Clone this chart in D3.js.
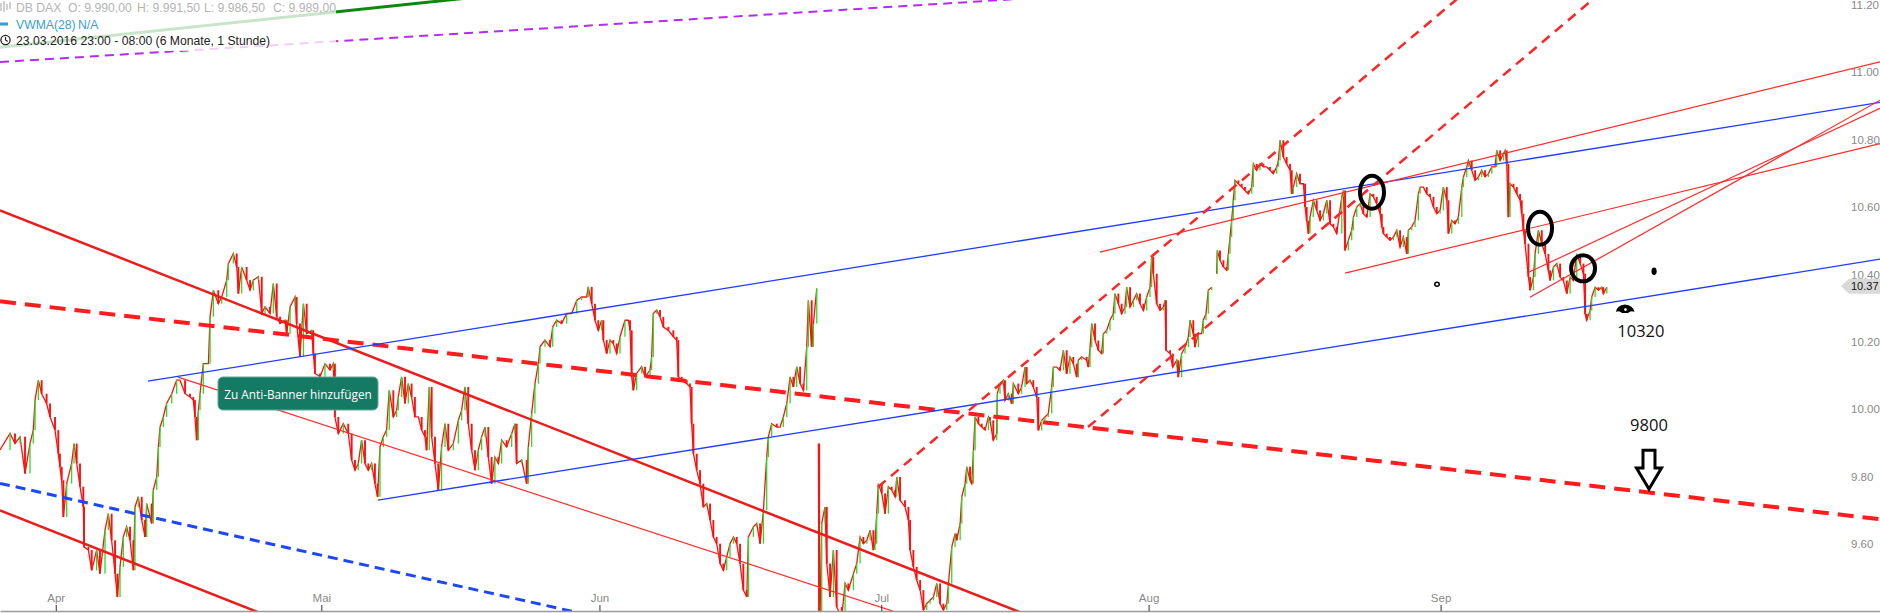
<!DOCTYPE html>
<html><head><meta charset="utf-8">
<script src="https://cdn.jsdelivr.net/npm/d3@7"></script>
<style>
html,body{margin:0;padding:0;background:#fff;overflow:hidden}
svg{display:block}
</style></head><body>
<svg id="chart" width="1880" height="613"></svg>
<script>
// ---------- DATA ----------
const monthLabels = ["Apr","Mai","Jun","Jul","Aug","Sep"];
const monthTicks = [4.39, 25.3, 47.2, 69.39, 90.44, 113.43]; // trading-day index
const priceTickValues = [9600,9800,10000,10200,10400,10600,10800,11000,11200];
const priceTickLabels = ["9.60","9.80","10.00","10.20","10.40","10.60","10.80","11.00","11.20"];
const lastPrice = 10365;
const lastPriceLabel = "10.37";
const legendTitle = ["DB DAX","O: 9.990,00","H: 9.991,50","L: 9.986,50","C: 9.989,00"];
const legendIndicator = ["VWMA(28)","N/A"];
const legendPeriod = "23.03.2016 23:00 - 08:00 (6 Monate, 1 Stunde)";
const bannerText = "Zu Anti-Banner hinzufügen";

// [trading-day index, price]; null = session gap
const prices = [
[0,9879],[0.79,9928],[1.18,9898],[1.58,9918],[1.97,9809],[2.36,9898],[2.62,9938],[2.76,10027],[3.02,10086],[3.28,10046],[3.67,10017],[3.94,9977],[4.33,9938],[4.59,9868],[4.72,9829],[4.86,9789],[4.99,9680],[5.25,9779],[5.64,9839],[5.83,9898],[6.04,9839],[6.30,9770],[6.56,9710],[6.62,9591],[6.96,9582],[7.22,9522],[7.61,9582],[7.87,9512],[8.27,9641],[8.53,9690],[8.79,9611],[9.06,9512],[9.24,9443],[9.45,9532],[9.71,9621],[9.97,9651],[10.24,9611],[10.5,9522],[10.63,9710],[10.89,9740],[11.16,9671],[11.42,9621],[11.55,9720],[11.94,9661],[12.07,9760],[12.34,9799],[12.47,9888],[12.6,9947],[12.86,9977],[13.12,10017],[13.52,10046],[13.91,10086],[14.17,10086],[14.57,10046],[14.96,10036],[15.22,10027],[15.35,9977],[15.49,9908],[15.62,9997],[15.75,10046],[16.01,10135],[16.41,10135],[16.54,10274],[16.8,10353],[17.19,10313],[17.46,10333],[17.85,10383],[17.98,10432],[18.37,10462],[18.64,10422],[18.77,10343],[19.03,10422],[19.42,10383],[19.69,10353],[19.95,10383],[20.34,10393],[20.61,10284],[20.87,10304],[21.26,10284],[21.52,10373],[21.79,10274],[22.05,10254],[22.44,10264],[22.57,10224],[22.84,10304],[23.23,10333],[23.36,10254],[23.62,10155],[23.89,10313],[24.15,10224],[24.54,10234],[24.67,10165],[24.8,10106],[25.2,10096],[25.59,10135],
[25.98,10116],[26.24,10135],[26.37,9977],[26.64,9928],[27.03,9957],[27.42,9928],[27.69,9849],[27.95,9819],[28.21,9839],[28.47,9908],[28.74,9839],[29.0,9819],[29.26,9839],[29.52,9779],[29.73,9740],[29.92,9888],[30.18,9918],[30.44,9938],[30.65,10056],[30.97,9977],[31.23,9997],[31.36,10036],[31.62,10096],[31.89,10017],[32.15,10076],[32.41,10036],[32.67,9977],[32.94,9977],[33.2,9938],[33.46,9918],[33.59,9878],[33.8,10066],[33.99,9918],[34.25,9839],[34.51,9760],[34.77,9888],[35.04,9957],[35.3,9878],[35.69,9898],[36.09,9967],[36.35,9997],[36.61,10066],[36.87,9957],[37.14,9878],[37.4,9819],[37.66,9878],[37.92,9918],[38.19,9947],[38.45,9858],[38.71,9779],[38.97,9858],[39.24,9839],[39.5,9908],[39.89,9888],[40.29,9928],[40.55,9957],[40.68,9839],[41.07,9849],[41.47,9779],[41.6,9888],[41.86,9987],[42.12,10076],[42.39,10135],[42.52,10185],[42.91,10205],[43.31,10185],[43.52,10244],[43.83,10264],[44.22,10254],[44.62,10284],[45.01,10284],[45.41,10323],[45.8,10333],[46.19,10333],[46.32,10363],[46.59,10313],[46.85,10264],[47.11,10234],[47.37,10264],[47.51,10205],[47.77,10165],[48.03,10205],[48.29,10195],[48.56,10165],[48.82,10215],[49.21,10264],[49.47,10264],[49.61,10234],[49.74,10096],[49.87,10056],[50.13,10106],[50.52,10126],[50.79,10096],[51.18,10116],[51.31,10155],[51.44,10284],[51.71,10294],[51.97,10274],
[52.23,10244],[52.63,10234],[53.02,10215],[53.28,10205],[53.41,10096],[53.68,10086],[54.07,10076],[54.33,10066],[54.46,9957],[54.6,9868],[54.86,9819],[55.12,9779],[55.38,9710],[55.65,9720],[55.91,9671],[56.17,9621],[56.43,9601],[56.7,9542],[56.96,9522],[57.22,9562],[57.48,9601],[57.75,9621],[58.01,9601],[58.27,9542],[58.53,9463],[58.8,9443],[58.93,9621],[59.32,9651],[59.58,9661],[59.85,9601],[60.11,9700],[60.37,9858],[60.5,9918],[60.76,9957],[61.16,9947],[61.42,9947],[61.68,9977],[61.95,10017],[62.21,10096],[62.47,10066],[62.73,10126],[63.0,10076],[63.26,10056],[63.52,10185],[63.65,10323],[63.91,10185],[64.05,10254],[64.31,10358],null,[64.44,9898],[64.5,9250],[64.7,9661],[64.96,9710],[65.1,9542],[65.36,9443],[65.62,9582],[65.88,9413],[66.28,9384],[66.54,9483],[66.8,9463],[67.2,9512],[67.46,9542],[67.72,9621],[67.98,9601],[68.25,9611],[68.51,9641],[68.77,9582],[68.9,9601],[69.03,9690],[69.16,9779],[69.43,9750],[69.69,9690],[69.95,9770],[70.21,9760],[70.48,9740],[70.61,9799],[70.87,9730],[71.26,9710],[71.53,9671],[71.66,9582],[71.92,9532],[72.18,9493],[72.45,9463],[72.71,9404],[72.97,9423],[73.23,9433],[73.5,9443],[73.76,9483],[74.02,9423],[74.28,9404],[74.55,9423],[74.68,9483],[74.94,9591],[75.2,9631],[75.33,9611],[75.6,9661],[75.73,9740],[75.99,9779],[76.12,9829],[76.38,9789],[76.51,9779],[76.65,9878],[76.78,9977],[77.04,9957],[77.3,9947],[77.56,9938],[77.83,9977],
[77.95,9967],[78.21,9908],[78.48,9927],[78.53,10046],[78.74,10076],[79.0,10086],[79.13,10026],[79.39,10046],[79.66,10016],[79.79,10076],[80.18,10046],[80.44,10066],[80.71,10125],[80.84,10076],[81.1,10086],[81.36,10066],[81.63,10036],[81.76,9937],[82.02,9967],[82.28,9977],[82.54,9987],[82.81,10066],[82.94,10125],[83.2,10125],[83.46,10115],[83.73,10175],[83.99,10105],[84.25,10155],[84.51,10135],[84.78,10095],[84.91,10145],[85.17,10155],[85.56,10145],[85.69,10125],[85.83,10184],[85.96,10254],[86.22,10204],[86.48,10175],[86.74,10165],[86.88,10224],[87.14,10234],[87.4,10264],[87.66,10283],[87.79,10343],[88.06,10313],[88.32,10283],[88.58,10303],[88.71,10362],[88.98,10303],[89.24,10323],[89.5,10343],[89.76,10313],[90.03,10293],[90.29,10333],[90.55,10362],[90.68,10452],[90.81,10402],[91.08,10313],[91.34,10293],[91.6,10303],[91.73,10323],[91.81,10175],[92.13,10165],[92.34,10125],[92.65,10145],[92.78,10095],[93.04,10165],[93.31,10184],[93.57,10214],[93.7,10264],[93.96,10224],[94.09,10184],[94.36,10224],[94.62,10224],[94.75,10264],[94.96,10283],[95.14,10353],[95.41,10362],null,[95.8,10402],[95.85,10471],[96.06,10442],[96.33,10422],[96.59,10412],[96.72,10461],[96.85,10511],[96.98,10560],[97.11,10620],[97.24,10679],[97.51,10669],[97.77,10659],[98.03,10649],[98.29,10639],[98.56,10659],[98.69,10728],[98.95,10709],[99.21,10728],[99.48,10719],[99.74,10719],[100.0,10709],[100.26,10699],[100.53,10719],[100.66,10738],[100.79,10798],[101.05,10748],[101.31,10728],[101.58,10709],[101.71,10639],[101.84,10659],[102.1,10699],[102.36,10669],[102.63,10669],[102.76,10600],[102.89,10560],[103.02,10521],[103.15,10570],[103.41,10620],[103.68,10590],[103.94,10560],
[104.2,10580],[104.47,10620],[104.73,10550],[104.99,10541],[105.25,10521],[105.65,10630],[105.78,10649],[105.91,10471],[106.17,10501],[106.43,10531],[106.57,10570],[106.83,10600],[107.09,10610],[107.35,10580],[107.62,10570],[107.88,10639],[108.14,10630],[108.4,10610],[108.67,10580],[108.8,10541],[108.93,10521],[109.19,10511],[109.45,10501],[109.72,10511],[109.98,10531],[110.24,10481],[110.5,10511],[110.77,10461],[110.9,10531],[111.16,10541],[111.42,10560],[111.68,10639],[111.82,10659],[112.08,10659],[112.34,10639],[112.6,10630],[112.87,10600],[113.13,10580],[113.39,10590],[113.65,10659],[113.92,10620],[114.05,10521],[114.31,10560],[114.57,10550],[114.83,10570],[115.1,10659],[115.23,10689],[115.49,10719],[115.62,10738],[115.88,10709],[116.15,10679],[116.41,10689],[116.67,10709],[116.93,10689],[117.2,10699],[117.46,10719],[117.72,10719],[117.85,10768],[118.12,10738],[118.38,10758],[118.51,10768],[118.64,10728],[118.77,10570],[118.9,10669],[119.17,10659],[119.43,10639],[119.69,10620],[119.82,10580],[119.95,10531],[120.08,10491],[120.35,10392],[120.48,10353],[120.74,10392],[120.87,10461],[121.13,10531],[121.4,10491],[121.66,10461],[121.92,10412],[122.05,10382],[122.32,10422],[122.58,10432],[122.84,10392],[123.1,10382],[123.37,10343],[123.63,10392],[123.89,10382],[124.15,10461],[124.42,10432],[124.68,10402],[124.81,10283],[124.94,10264],[125.2,10293],[125.33,10333],[125.6,10362],[125.86,10353],[126.12,10362],[126.25,10343],[126.52,10362]
];

// trend lines: [kind, t1, p1, t2, p2] drawn from point 1 through point 2 to the right edge
const trendLines = [
["green",      0, 11074, 31.5, 11199],
["purpleDash", 0, 11030, 78.35, 11213],
["redThick",   0, 10590, 78.74, 9421],
["redThick",   0, 9700, 19.69, 9407],
["blueDash",   0, 9780, 39.37, 9448],
["redDashThick",0, 10320, 141.73, 9701],
["redThin",    14.02, 10095, 62.99, 9491],
["blueThin",   11.65, 10083, 141.73, 10872],
["blueThin",   29.76, 9730, 141.73, 10407],
["redDash",    69.13, 9769, 103.39, 10857],
["redDash",    85.67, 9947, 114.17, 10857],
["redThin",    86.61, 10466, 129.13, 10857],
["redThin",    105.91, 10404, 129.92, 10623],
["redThin",    120.24, 10404, 148.03, 10893],
["redThin",    120.47, 10332, 148.03, 10917]
];

// hand-drawn marks: circles [t, price]
const circles = [[108.03,10644],[121.26,10537],[124.65,10418]];
const hollowDot = [113.15,10371];
const filledDot = [130.24,10409];
const eyeMark = [127.95,10297];
const noteLabels = [["10320",129.2,10234],["9800",129.84,9955]];
const arrowMark = [129.84, 9878, 9763];

// ---------- STYLES ----------
const lineStyles = {
  green:       {stroke:"#0d870d", w:3,   dash:null},
  purpleDash:  {stroke:"#b42cf0", w:2,   dash:"9,6"},
  redThick:    {stroke:"#ee1b1b", w:2.5, dash:null},
  redDashThick:{stroke:"#ff1c1c", w:4,   dash:"16,9"},
  redDash:     {stroke:"#ff2424", w:2.5, dash:"10,7"},
  redThin:     {stroke:"#ff2a2a", w:1.2, dash:null},
  blueThin:    {stroke:"#1f3cff", w:1.3, dash:null},
  blueDash:    {stroke:"#1c46ff", w:3,   dash:"10,6"}
};

// ---------- SCALES ----------
const W = 1880, H = 613, axisY = 611;
const x = d3.scaleLinear().domain([0, 148.03]).range([0, W]);
const y = d3.scaleLinear().domain([9600, 11200]).range([544, 4.8]);

const svg = d3.select("#chart");
svg.append("defs").append("clipPath").attr("id","plot")
  .append("rect").attr("x",0).attr("y",0).attr("width",W).attr("height",axisY);

const plot = svg.append("g").attr("clip-path","url(#plot)");

// price bars
const segs = [];
for (let i = 1; i < prices.length; i++) {
  const a = prices[i-1], b = prices[i];
  if (!a || !b) continue;
  segs.push({t:b[0], p0:a[1], p1:b[1], up:b[1] > a[1]});
}
plot.append("path")
  .datum(prices)
  .attr("fill","none").attr("stroke","#ff1010").attr("stroke-width",1.3)
  .attr("d", d3.line().defined(d => d).x(d => x(d[0])).y(d => y(d[1])));
plot.append("g").selectAll("line").data(segs).join("line")
  .attr("x1", d => x(d.t)).attr("x2", d => x(d.t))
  .attr("y1", d => y(d.p0)).attr("y2", d => y(d.p1))
  .attr("stroke", d => d.up ? "#22e022" : "#ff1010")
  .attr("stroke-width", d => d.up ? 1.3 : 1.9);

// trend lines
const tEnd = x.domain()[1];
plot.append("g").selectAll("line").data(trendLines).join("line")
  .each(function(d){
    const [kind,t1,p1,t2,p2] = d;
    const slope = (p2 - p1) / (t2 - t1);
    const pe = p1 + slope * (tEnd - t1);
    const s = lineStyles[kind];
    d3.select(this)
      .attr("x1", x(t1)).attr("y1", y(p1))
      .attr("x2", x(tEnd)).attr("y2", y(pe))
      .attr("stroke", s.stroke).attr("stroke-width", s.w)
      .attr("stroke-dasharray", s.dash);
  });

// hand-drawn annotations
const ann = svg.append("g");
ann.selectAll("ellipse.c").data(circles).join("ellipse").attr("class","c")
  .attr("cx", d => x(d[0])).attr("cy", d => y(d[1]))
  .attr("rx", 12).attr("ry", (d,i) => i === 2 ? 13 : 16.5)
  .attr("fill","none").attr("stroke","#000").attr("stroke-width",4);
ann.append("ellipse").attr("cx", x(hollowDot[0])).attr("cy", y(hollowDot[1]))
  .attr("rx",2.2).attr("ry",2).attr("fill","#fff").attr("stroke","#000").attr("stroke-width",1.5);
ann.append("ellipse").attr("cx", x(filledDot[0])).attr("cy", y(filledDot[1]))
  .attr("rx",2.6).attr("ry",3.8).attr("fill","#000");
ann.append("path")
  .attr("transform", `translate(${x(eyeMark[0])},${y(eyeMark[1])})`)
  .attr("d","M-9,3 Q-8,-4 0,-4.5 Q8,-4 9.5,3 Q6,1 3,4 L-3,4 Q-6,1 -9,3 Z")
  .attr("fill","#000");
ann.append("circle").attr("cx", x(eyeMark[0])+0.5).attr("cy", y(eyeMark[1])+0.5)
  .attr("r",1.4).attr("fill","#fff");
ann.selectAll("text.note").data(noteLabels).join("text").attr("class","note")
  .attr("x", d => x(d[1])).attr("y", d => y(d[2]))
  .attr("text-anchor","middle").attr("dominant-baseline","central")
  .attr("font-family","'Open Sans', 'Noto Sans', sans-serif").attr("font-size",16.5)
  .attr("fill","#111").text(d => d[0]);
{
  const ax = x(arrowMark[0]), y0 = y(arrowMark[1]), yt = y(arrowMark[2]);
  const yh = yt - 21;
  ann.append("path")
    .attr("d", `M${ax-6},${y0} L${ax+6},${y0} L${ax+6},${yh} L${ax+12.5},${yh} L${ax},${yt} L${ax-12.5},${yh} L${ax-6},${yh} Z`)
    .attr("fill","#fff").attr("stroke","#000").attr("stroke-width",3).attr("stroke-linejoin","miter");
}

// banner
const bn = svg.append("g");
bn.append("rect").attr("x",218).attr("y",377).attr("width",160).attr("height",33).attr("rx",5)
  .attr("fill","#147a64").attr("stroke","#5fa898").attr("stroke-width",1);
bn.append("text").attr("x",298).attr("y",394).attr("text-anchor","middle").attr("dominant-baseline","central")
  .attr("font-family","'Open Sans', 'Noto Sans', sans-serif").attr("font-size",11.8).attr("fill","#fff")
  .text(bannerText);

// x axis
const xAxis = d3.axisTop(x).tickValues(monthTicks).tickFormat((d,i) => monthLabels[i])
  .tickSize(6).tickSizeOuter(0).tickPadding(3);
const gx = svg.append("g").attr("transform",`translate(0,${axisY})`).call(xAxis);
gx.select(".domain").attr("stroke","#9a9a9a").attr("stroke-width",1.5);
gx.selectAll(".tick line").attr("stroke","#333");
gx.selectAll(".tick text").attr("fill","#8a8a8a").attr("font-size",11.5)
  .attr("font-family","'Liberation Sans', Arial, sans-serif");

// y axis labels
const yAxis = d3.axisRight(y).tickValues(priceTickValues).tickFormat((d,i) => priceTickLabels[i])
  .tickSize(0).tickPadding(0);
const gy = svg.append("g").attr("transform","translate(1851,0)").call(yAxis);
gy.select(".domain").remove();
gy.selectAll(".tick text").attr("fill","#8a8a8a").attr("font-size",11.5)
  .attr("font-family","'Liberation Sans', Arial, sans-serif");

// last price marker
{
  const py = y(lastPrice);
  svg.append("path")
    .attr("d", `M1841,${py} L1849,${py-7.5} L1880,${py-7.5} L1880,${py+7.5} L1849,${py+7.5} Z`)
    .attr("fill","#d9d9d9");
  svg.append("text").attr("x",1851).attr("y",py).attr("dominant-baseline","central")
    .attr("font-family","'Liberation Sans', Arial, sans-serif").attr("font-size",11).attr("fill","#111")
    .text(lastPriceLabel);
}

// legend
const lg = svg.append("g");
lg.append("rect").attr("x",0).attr("y",0).attr("width",336).attr("height",51).attr("fill","#fff").attr("opacity",0.78);
const lf = "'Liberation Sans', Arial, sans-serif";
const lfs = 12.2;
// candle icon
[[1,3,11],[4,1,12],[7,4,10],[10,2,9]].forEach(c => {
  lg.append("line").attr("x1",c[0]).attr("x2",c[0]).attr("y1",c[1]).attr("y2",c[2]).attr("stroke","#b8b8b8").attr("stroke-width",1.3);
});
const titleX = [16, 68, 137, 204, 273];
lg.selectAll("text.t").data(legendTitle).join("text").attr("class","t")
  .attr("x",(d,i) => titleX[i]).attr("y",11.5).attr("font-family",lf).attr("font-size",lfs).attr("fill","#b4b4b4").text(d => d);
lg.append("line").attr("x1",0).attr("x2",8).attr("y1",24).attr("y2",24).attr("stroke","#2f9fd0").attr("stroke-width",3);
const indX = [16, 78];
lg.selectAll("text.i").data(legendIndicator).join("text").attr("class","i")
  .attr("x",(d,i) => indX[i]).attr("y",28.5).attr("font-family",lf).attr("font-size",lfs).attr("fill","#3a9fd0").text(d => d);
lg.append("circle").attr("cx",5.5).attr("cy",40).attr("r",4.6).attr("fill","none").attr("stroke","#222").attr("stroke-width",1.3);
lg.append("path").attr("d","M5.5,37 L5.5,40 L7.8,41.5").attr("fill","none").attr("stroke","#222").attr("stroke-width",1.2);
lg.append("text").attr("x",16).attr("y",44.5).attr("font-family",lf).attr("font-size",lfs).attr("fill","#222").text(legendPeriod);
</script>
</body></html>
